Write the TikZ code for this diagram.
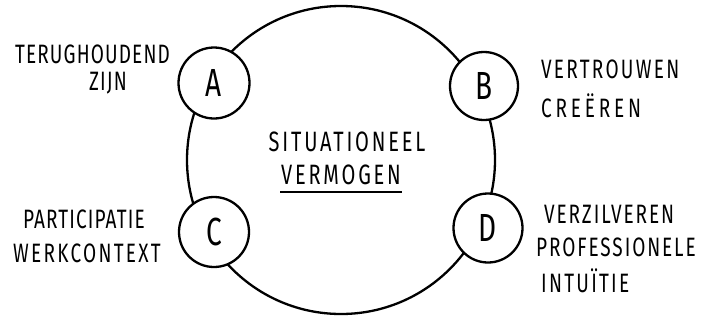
\documentclass[tikz,border=0pt]{standalone}
\usepackage{fontspec}
\usepackage{graphicx}
\setmainfont{Fira Sans}[LetterSpace=6]
\newcommand{\tall}[1]{\scalebox{1}[1.4]{#1}}
\begin{document}
\begin{tikzpicture}[x=1pt,y=-1pt,line width=2.3pt,
  lbl/.style={anchor=west,inner sep=0pt,font=\fontsize{19}{19}\selectfont},
  wide/.style={font=\fontsize{19}{19}\selectfont\addfontfeatures{LetterSpace=12}},
  letter/.style={circle,draw,fill=white,minimum size=70pt,inner sep=0pt,font=\fontsize{28}{28}\selectfont},
  bigcircle/.style={circle,draw,minimum size=308pt,inner sep=0pt}]
\useasboundingbox (0,0) rectangle (701,322);
\node[bigcircle] (main) at (341,160) {};
\node[letter,minimum size=71pt] (A) at (214,83) {\tall{A}};
\node[letter,minimum size=68pt] (B) at (484,86) {\tall{B}};
\node[letter] (C) at (214,232) {\tall{C}};
\node[letter,minimum size=69pt] (D) at (488,228) {\tall{D}};
% labels
\node[lbl] (t1) at (14,54) {\tall{TERUGHOUDEND}};
\node[lbl] (t2) at (88,83) {\tall{ZIJN}};
\node[lbl,wide] (t3) at (540,69) {\tall{VERTROUWEN}};
\node[lbl,wide,font=\fontsize{19}{19}\selectfont\addfontfeatures{LetterSpace=20}] (t4) at (540,106) {\tall{CREËREN}};
\node[lbl] (t5) at (22,219) {\tall{PARTICIPATIE}};
\node[lbl,wide] (t6) at (12,253) {\tall{WERKCONTEXT}};
\node[lbl,font=\fontsize{19}{19}\selectfont\addfontfeatures{LetterSpace=10}] (t7) at (543,214) {\tall{VERZILVEREN}};
\node[lbl,font=\fontsize{19}{19}\selectfont\addfontfeatures{LetterSpace=10}] (t8) at (535,247) {\tall{PROFESSIONELE}};
\node[lbl,font=\fontsize{19}{19}\selectfont\addfontfeatures{LetterSpace=12}] (t9) at (540,281) {\tall{INTUÏTIE}};
\node[lbl,anchor=center,font=\fontsize{20}{20}\selectfont\addfontfeatures{LetterSpace=14}] (s1) at (347,142) {\tall{SITUATIONEEL}};
\node[lbl,anchor=center,font=\fontsize{20}{20}\selectfont\addfontfeatures{LetterSpace=14}] (s2) at (341,175) {\tall{VERMOGEN}};
\draw ([yshift=-6pt]s2.south west) -- ([yshift=-6pt]s2.south east);
\end{tikzpicture}
\end{document}
